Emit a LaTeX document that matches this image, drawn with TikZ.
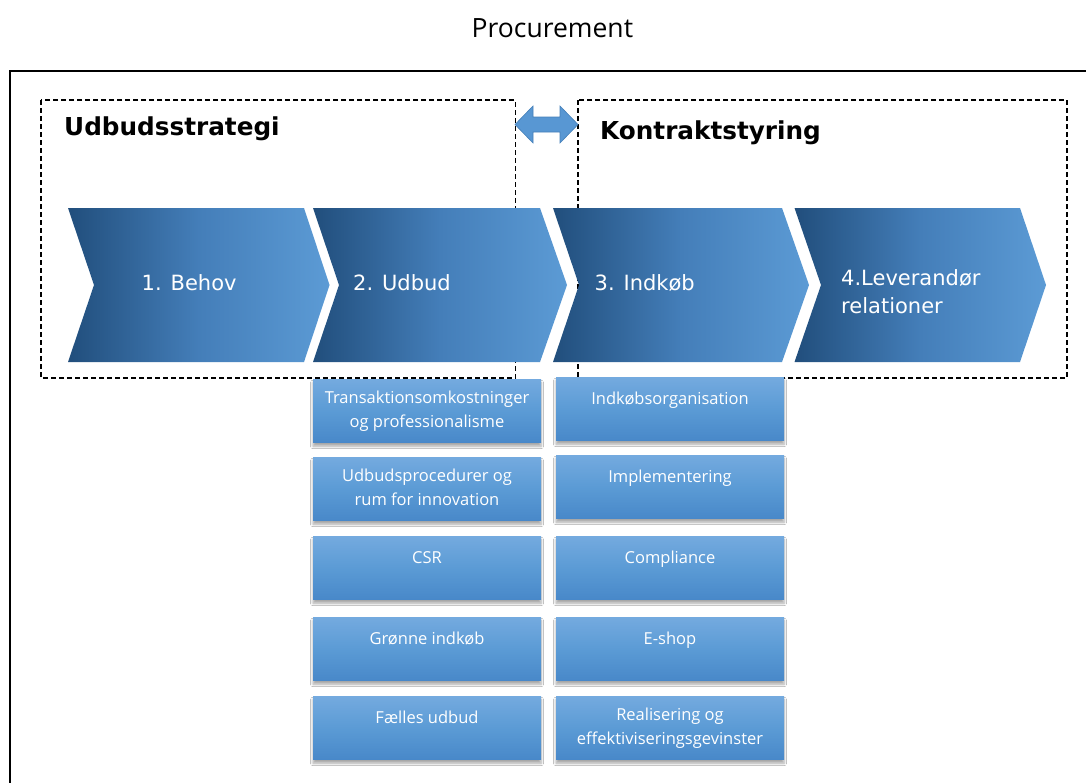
\documentclass[tikz,border=0pt]{standalone}
\usepackage{fontspec}
\setmainfont{DejaVu Sans}
\newfontfamily\titlefont{Open Sans}
\newfontfamily\boxfont{Open Sans}
\usetikzlibrary{shadows.blur,calc}
\definecolor{chevdark}{RGB}{33,78,124}
\definecolor{chevmid}{RGB}{68,126,185}
\definecolor{chevlight}{RGB}{92,155,213}
\definecolor{boxtop}{RGB}{116,170,223}
\definecolor{boxmid}{RGB}{91,155,213}
\definecolor{boxbot}{RGB}{72,136,201}
\definecolor{arrowfill}{RGB}{88,151,211}
\definecolor{arrowline}{RGB}{70,128,185}
\tikzset{
  outerframe/.style={draw=black, line width=2pt},
  dashbox/.style={draw=black, line width=1.1pt, dash pattern=on 5pt off 3pt},
  chevshade/.style={left color=chevdark, right color=chevlight, middle color=chevmid},
  chevtext/.style={text=white, font=\fontsize{21}{28}\selectfont, anchor=base west, inner sep=0pt},
  heading/.style={text=black, font=\bfseries\fontsize{24.7}{30}\selectfont, anchor=base west, inner sep=0pt},
  itembox/.style={rectangle, minimum width=228pt, minimum height=63.5pt, inner sep=0pt,
    top color=boxtop, bottom color=boxbot, middle color=boxmid, anchor=north,
    blur shadow={shadow xshift=0pt, shadow yshift=-3.5pt, shadow blur radius=2.5pt, shadow opacity=35}},
  itemtext/.style={text=white, font=\boxfont\fontsize{16.5}{24}\selectfont, align=center, anchor=north, inner sep=0pt},
  dblarrow/.style={fill=arrowfill, draw=arrowline, line width=0.6pt, line join=miter}
}
\begin{document}
\begin{tikzpicture}[x=1pt,y=-1pt]
\clip (0,0) rectangle (1086,782);
\fill[white] (0,0) rectangle (1086,782);
% title
\node[text=black, font=\titlefont\fontsize{26.5}{30}\selectfont, anchor=base west, inner sep=0pt] (title) at (471.5,37.7) {Procurement};
% outer frame
\draw[outerframe] (10,71) rectangle (1110,810);
% dashed groups
\draw[dashbox] (41,100) rectangle (515.5,378);
\draw[dashbox] (578,100) rectangle (1067,378);
% double arrow
\draw[dblarrow] (515,124.5) -- (533,106) -- (533,117) -- (560,117) -- (560,106) -- (578,124.5)
  -- (560,143) -- (560,132) -- (533,132) -- (533,143) -- cycle;
% headings
\node[heading] (h1) at (64,135.3) {Udbudsstrategi};
\node[heading] (h2) at (600,139.3) {Kontraktstyring};
% chevrons
\shade[chevshade] (68,208) -- (304,208) -- (329.5,285) -- (304,362) -- (68,362) -- (94,285) -- cycle;
\shade[chevshade] (313,208) -- (540,208) -- (567,285) -- (540,362) -- (313,362) -- (339,285) -- cycle;
\shade[chevshade] (553,208) -- (782,208) -- (809,285) -- (782,362) -- (553,362) -- (579,285) -- cycle;
\shade[chevshade] (794.5,208) -- (1020,208) -- (1046,285) -- (1020,362) -- (794.5,362) -- (821,285) -- cycle;
\node[chevtext] (c1) at (141.5,290) {1. Behov};
\node[chevtext] (c2) at (353,290) {2. Udbud};
\node[chevtext] (c3) at (594.5,290) {3. Indkøb};
\node[chevtext] (c4a) at (841,285) {4.Leverandør};
\node[chevtext] (c4b) at (841,313.3) {relationer};
% left column boxes
\node[itembox] (l1) at (427,379) {};
\node[itembox] (l2) at (427,457) {};
\node[itembox] (l3) at (427,536) {};
\node[itembox] (l4) at (427,617) {};
\node[itembox] (l5) at (427,696) {};
% right column boxes
\node[itembox] (r1) at (670,377) {};
\node[itembox] (r2) at (670,455) {};
\node[itembox] (r3) at (670,536) {};
\node[itembox] (r4) at (670,617) {};
\node[itembox] (r5) at (670,696) {};
% box texts
\node[itemtext] (l1t) at ($(l1.north)+(0,7.2)$) {\strut Transaktionsomkostninger\\\strut og professionalisme};
\node[itemtext] (l2t) at ($(l2.north)+(0,7.2)$) {\strut Udbudsprocedurer og\\\strut rum for innovation};
\node[itemtext] (l3t) at ($(l3.north)+(0,10.2)$) {\strut CSR};
\node[itemtext] (l4t) at ($(l4.north)+(0,10.2)$) {\strut Grønne indkøb};
\node[itemtext] (l5t) at ($(l5.north)+(0,10.2)$) {\strut Fælles udbud};
\node[itemtext] (r1t) at ($(r1.north)+(0,10.2)$) {\strut Indkøbsorganisation};
\node[itemtext] (r2t) at ($(r2.north)+(0,10.2)$) {\strut Implementering};
\node[itemtext] (r3t) at ($(r3.north)+(0,10.2)$) {\strut Compliance};
\node[itemtext] (r4t) at ($(r4.north)+(0,10.2)$) {\strut E-shop};
\node[itemtext] (r5t) at ($(r5.north)+(0,7.2)$) {\strut Realisering og\\\strut effektiviseringsgevinster};
\end{tikzpicture}
\end{document}
